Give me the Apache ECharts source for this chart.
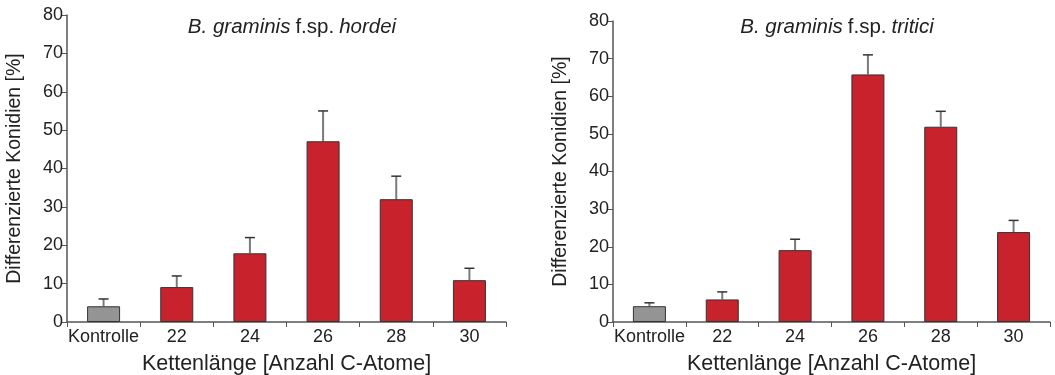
<!DOCTYPE html>
<html>
<head>
<meta charset="utf-8">
<script src="https://cdn.jsdelivr.net/npm/echarts@6/dist/echarts.min.js"></script>
<style>html,body{margin:0;padding:0;background:#fff}#c{width:1055px;height:375px}</style>
</head>
<body>
<div id="c"></div>
<script>
var categories = ['Kontrolle', '22', '24', '26', '28', '30'];
var hordeiValues = [4.1, 9.1, 17.9, 47.1, 32, 10.9];
var hordeiErrors = [6, 12, 22, 55, 38, 14];
var triticiValues = [4.2, 6, 19.1, 65.8, 51.9, 23.9];
var triticiErrors = [5.1, 8, 22, 71, 56, 27];
var yTicks = [0, 10, 20, 30, 40, 50, 60, 70, 80];

var FONT = 'Liberation Sans';
var RED = '#C8222C', GRAY = '#949494';

function barData(vals) {
  return vals.map(function (v, i) {
    return { value: v, itemStyle: { color: i === 0 ? GRAY : RED } };
  });
}
function errData(vals, errs) {
  return vals.map(function (v, i) { return [i, v, errs[i]]; });
}
function errRender(params, api) {
  var i = api.value(0);
  var p0 = api.coord([i, api.value(1)]);
  var p1 = api.coord([i, api.value(2)]);
  var hw = 5;
  return {
    type: 'group',
    children: [
      { type: 'line', shape: { x1: p0[0], y1: p0[1], x2: p1[0], y2: p1[1] }, style: { stroke: '#7a7a7a', lineWidth: 2 } },
      { type: 'line', shape: { x1: p1[0] - hw, y1: p1[1], x2: p1[0] + hw, y2: p1[1] }, style: { stroke: '#333', lineWidth: 1.5 } }
    ]
  };
}
function xAxis(gi) {
  return {
    type: 'category', gridIndex: gi, data: categories,
    axisLine: { lineStyle: { color: '#555', width: 1.5 } },
    axisTick: { show: true, interval: 0, alignWithLabel: false, length: 5, lineStyle: { color: '#555' } },
    axisLabel: { interval: 0, color: '#222', fontFamily: FONT, fontSize: 18, margin: 6 },
    name: 'Kettenlänge [Anzahl C-Atome]', nameLocation: 'middle', nameGap: 31,
    nameTextStyle: { color: '#222', fontFamily: FONT, fontSize: 21.5 }
  };
}
function yAxis(gi) {
  return {
    type: 'value', gridIndex: gi, min: yTicks[0], max: yTicks[yTicks.length - 1], interval: 10,
    axisLine: { show: true, lineStyle: { color: '#555', width: 1.5 } },
    axisTick: { show: true, length: 5, lineStyle: { color: '#555' } },
    splitLine: { show: false },
    axisLabel: { color: '#222', fontFamily: FONT, fontSize: 18, margin: 4 },
    name: 'Differenzierte Konidien [%]', nameLocation: 'middle', nameGap: 42,
    nameTextStyle: { color: '#222', fontFamily: FONT, fontSize: 19.5 }
  };
}
var chart = echarts.init(document.getElementById('c'));
var titleRich = {
  i: { fontStyle: 'italic', fontWeight: 'normal', fontFamily: FONT, fontSize: 20.5, color: '#222' },
  n: { fontStyle: 'normal', fontWeight: 'normal', fontFamily: FONT, fontSize: 20.5, color: '#222' }
};
chart.setOption({
  animation: false,
  title: [
    { text: '{i|B. graminis} {n|f.sp.} {i|hordei}', left: 287, top: 12, textAlign: 'center', textStyle: { fontWeight: 'normal', rich: titleRich } },
    { text: '{i|B. graminis} {n|f.sp.} {i|tritici}', left: 832, top: 12, textAlign: 'center', textStyle: { fontWeight: 'normal', rich: titleRich } }
  ],
  grid: [
    { left: 67, top: 15, width: 439, height: 307, containLabel: false, outerBoundsMode: 'none' },
    { left: 613, top: 21, width: 437, height: 301, containLabel: false, outerBoundsMode: 'none' }
  ],
  xAxis: [xAxis(0), xAxis(1)],
  yAxis: [yAxis(0), yAxis(1)],
  series: [
    { type: 'bar', xAxisIndex: 0, yAxisIndex: 0, data: barData(hordeiValues), barWidth: 33,
      itemStyle: { borderColor: '#333', borderWidth: 1 } },
    { type: 'custom', xAxisIndex: 0, yAxisIndex: 0, data: errData(hordeiValues, hordeiErrors), renderItem: errRender, z: 1 },
    { type: 'bar', xAxisIndex: 1, yAxisIndex: 1, data: barData(triticiValues), barWidth: 33,
      itemStyle: { borderColor: '#333', borderWidth: 1 } },
    { type: 'custom', xAxisIndex: 1, yAxisIndex: 1, data: errData(triticiValues, triticiErrors), renderItem: errRender, z: 1 }
  ]
});
</script>
</body>
</html>
